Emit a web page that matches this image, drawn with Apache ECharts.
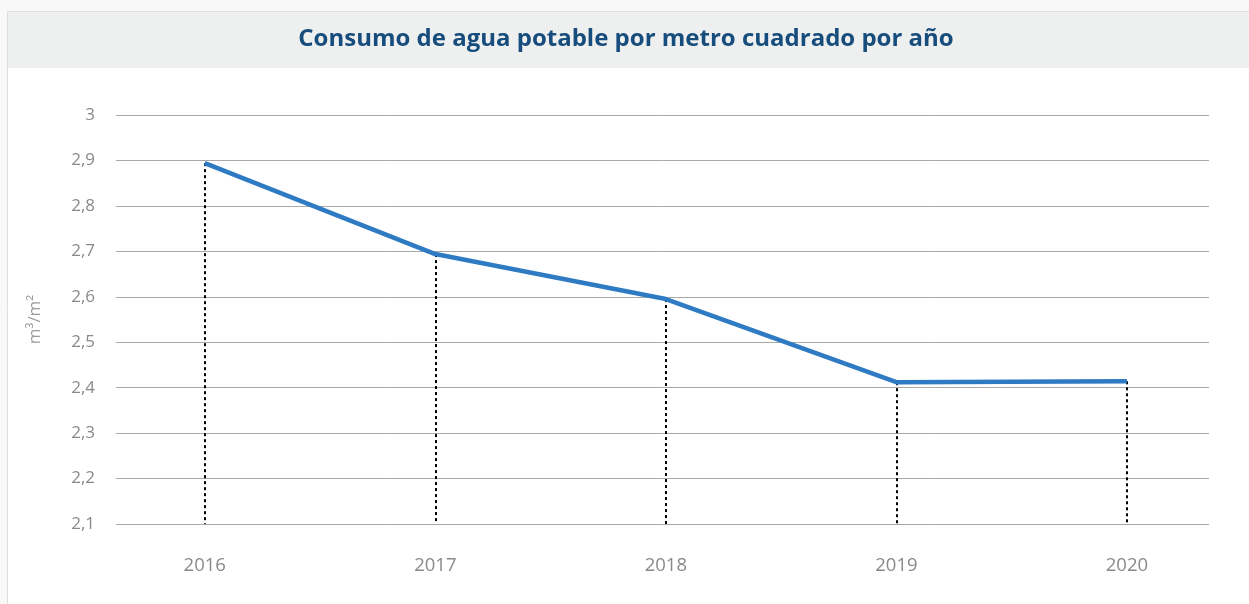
<!DOCTYPE html>
<html>
<head>
<meta charset="utf-8">
<style>
  html, body { margin: 0; padding: 0; background: #f8f8f8; }
  #main { width: 1249px; height: 604px; }
</style>
<script src="https://cdn.jsdelivr.net/npm/echarts@6/dist/echarts.min.js"></script>
</head>
<body>
<div id="main"></div>
<script>
// datos
const years = [2016, 2017, 2018, 2019, 2020]
const consumo = [2.894, 2.694, 2.595, 2.412, 2.414]
const yMin = 2.1
const yMax = 3

const dom = document.getElementById('main')
const myChart = echarts.init(dom)

const fontFam = '"Open Sans", "Noto Sans", sans-serif'

// líneas punteadas desde cada punto hasta el eje
const dropLines = years.map((y, i) => [
  { coord: [y, consumo[i]] },
  { coord: [y, yMin] }
])

const option = {
  backgroundColor: '#f8f8f8',
  animation: false,
  // fondo de la tarjeta y banda del título
  graphic: [
    {
      type: 'rect', z: -10, silent: true,
      shape: { x: 7.5, y: 11.5, width: 1250, height: 600 },
      style: { fill: '#ffffff', stroke: '#e2ddd8', lineWidth: 1 }
    },
    {
      type: 'rect', z: -9, silent: true,
      shape: { x: 8, y: 12, width: 1245, height: 56 },
      style: { fill: '#eef0f0' }
    }
  ],
  title: {
    text: 'Consumo de agua potable por metro cuadrado por año',
    left: 626,
    textAlign: 'center',
    top: 27,
    padding: 0,
    textStyle: {
      color: '#174d7c',
      fontSize: 24,
      fontWeight: 'bold',
      fontFamily: fontFam
    }
  },
  grid: {
    left: 116,
    right: 40,
    top: 115,
    bottom: 80
  },
  xAxis: {
    type: 'value',
    min: 2015.615,
    max: 2020.356,
    axisLine: { show: false },
    axisTick: { show: false },
    splitLine: { show: false },
    axisLabel: {
      customValues: years,
      color: '#8a8a8a',
      fontSize: 18.5,
      fontFamily: fontFam,
      margin: 32,
      formatter: v => String(v)
    }
  },
  yAxis: {
    type: 'value',
    min: yMin,
    max: yMax,
    interval: 0.1,
    name: 'm³/m²',
    nameLocation: 'middle',
    nameGap: 72,
    nameRotate: 90,
    nameTextStyle: { color: '#9a9a9a', fontSize: 17, fontFamily: fontFam },
    axisLine: { show: false },
    axisTick: { show: false },
    splitLine: { lineStyle: { color: '#a8a8a8', width: 1 } },
    axisLabel: {
      color: '#8a8a8a',
      fontSize: 17,
      fontFamily: fontFam,
      margin: 21,
      padding: [0, 0, 8, 0],
      formatter: v => String(Math.round(v * 10) / 10).replace('.', ',')
    }
  },
  series: [
    {
      name: 'Consumo',
      type: 'line',
      data: years.map((y, i) => [y, consumo[i]]),
      showSymbol: false,
      lineStyle: { color: '#2e7bc4', width: 4.5 },
      z: 3,
      markLine: {
        silent: true,
        symbol: 'none',
        label: { show: false },
        lineStyle: { color: '#000000', width: 2, type: [3, 3] },
        data: dropLines,
        z: 2
      }
    }
  ]
}

myChart.setOption(option)
</script>
</body>
</html>
